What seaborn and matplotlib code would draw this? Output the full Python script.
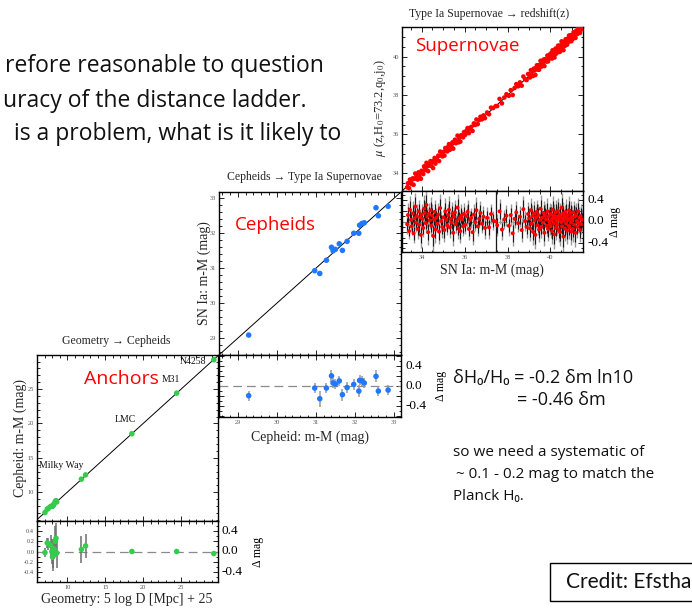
import matplotlib
matplotlib.use("Agg")
import matplotlib.pyplot as plt
import matplotlib.transforms as mtransforms
from matplotlib.patches import Rectangle
from matplotlib.ticker import MultipleLocator, FormatStrFormatter
import numpy as np
import pandas as pd
import seaborn as sns

# ---------------- data ----------------
# Geometric anchors: Milky Way parallaxes, two clusters, LMC, M31, NGC 4258
anchor_x = [7.05, 7.35, 7.50, 7.80, 7.95, 8.05, 8.15, 8.25, 8.40, 8.50, 8.60,
            11.85, 12.40, 18.50, 24.40, 29.30]
anchor_res = [-0.02, 0.17, 0.15, 0.12, 0.00, -0.11, -0.08, 0.05, 0.20, 0.26, -0.03,
              0.04, 0.11, 0.00, 0.00, -0.04]
anchor_err = [0.08, 0.10, 0.12, 0.20, 0.25, 0.22, 0.30, 0.20, 0.30, 0.30, 0.30,
              0.26, 0.24, 0.04, 0.05, 0.04]
anchor_names = ["Milky Way", "LMC", "M31", "N4258"]
anchor_name_pos = [(6.2, 13.9), (17.6, 20.5), (23.6, 26.4), (26.6, 29.0)]

# Cepheid hosts of type Ia supernovae
ceph_x = [29.28, 30.97, 31.10, 31.27, 31.40, 31.44, 31.50, 31.60, 31.68, 31.80,
          31.97, 32.10, 32.12, 32.18, 32.24, 32.54, 32.60, 32.85]
ceph_res = [-0.19, -0.04, -0.25, -0.04, 0.20, 0.06, 0.04, 0.10, -0.17, -0.03,
            0.03, -0.10, 0.11, 0.10, 0.06, 0.19, -0.10, -0.08]
ceph_err = [0.10, 0.10, 0.16, 0.10, 0.12, 0.10, 0.10, 0.10, 0.12, 0.10,
            0.10, 0.12, 0.10, 0.10, 0.10, 0.12, 0.10, 0.10]

# Hubble-flow type Ia supernovae
sn_x = [33.32, 33.36, 33.41, 33.45, 33.50, 33.53, 33.58, 33.62, 33.66, 33.70,
        33.74, 33.77, 33.81, 33.85, 33.89, 33.92, 33.96, 33.99,
        34.03, 34.07, 34.11, 34.14, 34.18, 34.22, 34.26, 34.30, 34.33, 34.37,
        34.41, 34.45, 34.49, 34.53, 34.57, 34.60, 34.64, 34.68, 34.72, 34.77,
        34.81, 34.86, 34.91, 34.96,
        35.02, 35.06, 35.10, 35.15, 35.19, 35.23, 35.27, 35.31, 35.35, 35.39,
        35.43, 35.47, 35.51, 35.55, 35.59, 35.63, 35.67, 35.71, 35.75, 35.80,
        35.84, 35.88, 35.93, 35.97,
        36.03, 36.09, 36.14, 36.20, 36.26, 36.31, 36.37, 36.43, 36.49, 36.55,
        36.61, 36.68, 36.74, 36.81, 36.88, 36.95,
        37.05, 37.14, 37.23, 37.33, 37.45, 37.52, 37.63, 37.74, 37.85, 37.95,
        38.06, 38.15, 38.24, 38.33, 38.41, 38.50, 38.58, 38.66, 38.74, 38.82,
        38.89, 38.96,
        39.02, 39.05, 39.09, 39.12, 39.16, 39.19, 39.23, 39.26, 39.30, 39.33,
        39.37, 39.40, 39.44, 39.47, 39.51, 39.54, 39.58, 39.61, 39.65, 39.68,
        39.72, 39.75, 39.79, 39.82, 39.86, 39.89, 39.92, 39.95, 39.97, 39.99,
        40.01, 40.03, 40.05, 40.08, 40.10, 40.12, 40.15, 40.17, 40.19, 40.22,
        40.24, 40.26, 40.29, 40.31, 40.33, 40.36, 40.38, 40.40, 40.43, 40.45,
        40.47, 40.50, 40.52, 40.54, 40.57, 40.59, 40.61, 40.64, 40.66, 40.68,
        40.71, 40.73, 40.75, 40.78, 40.80, 40.82, 40.85, 40.87, 40.89, 40.92,
        40.94, 40.96, 40.98, 40.99,
        41.02, 41.05, 41.08, 41.11, 41.14, 41.17, 41.20, 41.23, 41.26, 41.29,
        41.32, 41.35, 41.38, 41.41, 41.44, 41.48]
sn_res = [-0.05, 0.12, -0.18, 0.22, 0.03, -0.09, 0.15, -0.22, 0.06, 0.28,
          -0.02, 0.10, -0.14, 0.19, -0.06, 0.08, -0.25, 0.13,
          0.05, -0.12, 0.24, 0.16, -0.03, 0.31, 0.09, -0.20, 0.14, 0.02,
          0.21, -0.08, 0.11, -0.27, 0.04, 0.18, -0.15, 0.07, -0.04, 0.13,
          -0.19, 0.25, 0.01, -0.10,
          0.08, -0.16, 0.19, 0.03, -0.07, 0.12, 0.22, -0.11, 0.05, -0.02,
          0.15, -0.21, 0.09, 0.17, -0.05, 0.01, 0.26, -0.13, 0.06, -0.18,
          0.11, 0.04, -0.09, 0.14,
          -0.06, 0.10, 0.18, -0.14, 0.03, 0.07, -0.20, 0.13, -0.01, 0.21,
          -0.09, 0.05, 0.16, -0.04, 0.09, -0.12,
          0.07, -0.11, 0.14, 0.02, 0.00, -0.07, 0.19, -0.15, 0.04, 0.11,
          -0.08, 0.12, -0.22, 0.05, 0.17, -0.03, 0.09, -0.16, 0.23, 0.01,
          -0.10, 0.14,
          0.06, -0.13, 0.21, -0.04, 0.10, -0.19, 0.15, 0.02, -0.25, 0.08,
          0.18, -0.07, 0.12, -0.15, 0.03, 0.24, -0.10, 0.07, -0.02, 0.16,
          -0.21, 0.11, 0.04, -0.08, 0.19, -0.14, 0.09, 0.00, -0.05, 0.13,
          -0.09, 0.14, 0.03, -0.18, 0.22, 0.07, -0.03, 0.11, -0.24, 0.05,
          0.17, -0.12, 0.01, 0.09, -0.06, 0.20, -0.15, 0.04, 0.13, -0.20,
          0.08, -0.01, 0.26, -0.09, 0.06, 0.15, -0.28, 0.02, 0.10, -0.13,
          0.18, -0.04, 0.07, -0.17, 0.12, 0.03, -0.08, 0.21, -0.11, 0.05,
          0.16, -0.02, -0.19, 0.09,
          0.04, -0.14, 0.17, -0.06, 0.09, -0.21, 0.12, 0.01, -0.10, 0.19,
          -0.03, 0.07, -0.16, 0.10, -0.05, 0.03]
sn_err = [0.18, 0.22, 0.15, 0.25, 0.20, 0.16, 0.24, 0.19, 0.21, 0.26,
          0.17, 0.23, 0.18, 0.22, 0.20, 0.15, 0.24, 0.19,
          0.20, 0.17, 0.26, 0.22, 0.18, 0.28, 0.19, 0.23, 0.20, 0.16,
          0.24, 0.18, 0.21, 0.30, 0.17, 0.22, 0.25, 0.19, 0.16, 0.21,
          0.23, 0.27, 0.18, 0.20,
          0.19, 0.22, 0.24, 0.17, 0.18, 0.21, 0.25, 0.20, 0.16, 0.18,
          0.22, 0.24, 0.19, 0.23, 0.17, 0.15, 0.26, 0.20, 0.18, 0.22,
          0.21, 0.17, 0.19, 0.20,
          0.18, 0.20, 0.23, 0.21, 0.17, 0.19, 0.24, 0.20, 0.16, 0.25,
          0.19, 0.18, 0.22, 0.17, 0.20, 0.21,
          0.20, 0.22, 0.19, 0.18, 0.90, 0.21, 0.23, 0.20, 0.18, 0.19,
          0.19, 0.21, 0.24, 0.18, 0.22, 0.17, 0.20, 0.23, 0.25, 0.18,
          0.20, 0.22,
          0.20, 0.24, 0.22, 0.18, 0.21, 0.25, 0.23, 0.19, 0.27, 0.20,
          0.22, 0.18, 0.21, 0.24, 0.17, 0.26, 0.20, 0.19, 0.18, 0.23,
          0.25, 0.21, 0.17, 0.20, 0.24, 0.22, 0.19, 0.18, 0.20, 0.22,
          0.22, 0.19, 0.17, 0.24, 0.25, 0.20, 0.18, 0.21, 0.28, 0.19,
          0.23, 0.22, 0.17, 0.20, 0.19, 0.24, 0.23, 0.18, 0.21, 0.26,
          0.20, 0.17, 0.27, 0.21, 0.19, 0.22, 0.30, 0.18, 0.20, 0.23,
          0.24, 0.19, 0.18, 0.25, 0.21, 0.17, 0.20, 0.26, 0.22, 0.19,
          0.23, 0.18, 0.25, 0.20,
          0.21, 0.24, 0.22, 0.18, 0.20, 0.26, 0.23, 0.17, 0.21, 0.24,
          0.19, 0.20, 0.23, 0.22, 0.18, 0.20]

resid_labels = [0.4, 0.0, -0.4]

slide_lines = ["refore reasonable to question",
               "uracy of the distance ladder.",
               "is a problem, what is it likely to"]
eq_lines = ["\u03b4H\u2080/H\u2080 = -0.2 \u03b4m ln10", "= -0.46 \u03b4m"]
note_lines = ["so we need a systematic of",
              "~ 0.1 - 0.2 mag to match the",
              "Planck H\u2080."]

# ---------------- styling ----------------
sns.set_theme(style="ticks")
plt.rcParams["font.family"] = ["Liberation Serif", "DejaVu Serif"]
plt.rcParams["mathtext.fontset"] = "stix"
SANS = ["Open Sans", "DejaVu Sans"]

W, H = 692, 608
fig = plt.figure(figsize=(W / 100, H / 100), dpi=100)
fig.patch.set_facecolor("white")


def box(l, t, r, b):
    return fig.add_axes([l / W, 1 - b / H, (r - l) / W, (b - t) / H])


def fpos(x, y):
    return x / W, 1 - y / H


def style(ax, xmaj, xmin, ymaj, ymin, xlabels, ylabels, yfmt="%g"):
    ax.set_facecolor("white")
    ax.xaxis.set_major_locator(MultipleLocator(xmaj))
    ax.xaxis.set_minor_locator(MultipleLocator(xmin))
    ax.yaxis.set_major_locator(MultipleLocator(ymaj))
    ax.yaxis.set_minor_locator(MultipleLocator(ymin))
    ax.yaxis.set_major_formatter(FormatStrFormatter(yfmt))
    ax.tick_params(which="both", direction="in", top=True, right=True,
                   labelsize=4.6, width=0.6, pad=2, colors="black")
    ax.tick_params(axis="both", labelcolor="#555555")
    ax.tick_params(which="major", length=3.5)
    ax.tick_params(which="minor", length=1.8)
    ax.tick_params(labelbottom=xlabels, labelleft=ylabels)
    for s in ax.spines.values():
        s.set_linewidth(1.0)
        s.set_color("black")
    ax.set_xlabel("")
    ax.set_ylabel("")


def right_labels(ax, width_px, dlab_px):
    trans = mtransforms.blended_transform_factory(ax.transAxes, ax.transData)
    for v in resid_labels:
        ax.text(1 + 4 / width_px, v, f"{v:.1f}", transform=trans,
                ha="left", va="center", fontsize=9.5, color="black")
    ax.text(1 + dlab_px / width_px, 0.0, "\u0394 mag", transform=trans,
            ha="center", va="center", rotation=90, fontsize=8.5, color="black")


def panel(main_box, res_box, x, res, err, color, lim, rlim, size_main, size_res,
          ecolor, elw):
    x = np.asarray(x)
    res = np.asarray(res)
    err = np.asarray(err)
    df = pd.DataFrame({"x": x, "y": x + res, "res": res, "err": err})

    ax = box(*main_box)
    ax.axline((lim[0], lim[0]), slope=1, color="black", lw=0.7, zorder=1)
    sns.scatterplot(data=df, x="x", y="y", ax=ax, color=color, s=size_main,
                    edgecolor="none", linewidth=0, legend=False, zorder=3)
    ax.set_xlim(lim)
    ax.set_ylim(lim)

    axr = box(*res_box)
    axr.axhline(0, color="#8a8a8a", lw=0.9, ls=(0, (7, 4)), zorder=1)
    axr.errorbar(df["x"], df["res"], yerr=df["err"], fmt="none",
                 ecolor=ecolor, elinewidth=elw, capsize=0, zorder=2)
    sns.scatterplot(data=df, x="x", y="res", ax=axr, color=color, s=size_res,
                    edgecolor="none", linewidth=0, legend=False, zorder=3)
    axr.set_xlim(lim)
    axr.set_ylim(rlim)
    return ax, axr, df


# ---------------- Anchors ----------------
A_main, A_res, A_df = panel((37, 355, 218, 521), (37, 521, 218, 582),
                            anchor_x, anchor_res, anchor_err, "#33cc4d",
                            (6.0, 29.85), (-0.6, 0.6), 16, 16, "#6e6e6e", 1.1)
A_main.set_ylim(5.8, 29.95)
style(A_main, 5, 1, 5, 1, False, True)
style(A_res, 5, 1, 0.2, 0.1, True, True, "%.1f")
A_res.set_yticks([-0.4, -0.2, 0.0, 0.2, 0.4])
right_labels(A_res, 181, 40)
for name, (tx, ty) in zip(anchor_names, anchor_name_pos):
    A_main.text(tx, ty, name, fontsize=7, ha="left" if name == "Milky Way" else "center",
                va="center", color="#111111")

# ---------------- Cepheids ----------------
C_main, C_res, C_df = panel((219, 192, 401, 355), (219, 355, 401, 417),
                            ceph_x, ceph_res, ceph_err, "#1f78ff",
                            (28.52, 33.18), (-0.61, 0.61), 16, 16, "#9a9a9a", 1.1)
style(C_main, 1, 0.2, 1, 0.2, False, True)
style(C_res, 1, 0.2, 0.2, 0.1, True, False, "%.1f")
right_labels(C_res, 182, 40)

# ---------------- Supernovae ----------------
S_main, S_res, S_df = panel((402, 27, 583, 191), (402, 191, 583, 252),
                            sn_x, sn_res, sn_err, "#ff0000",
                            (33.08, 41.52), (-0.57, 0.57), 11, 8, "#9a9a9a", 1.0)
S_res.errorbar(S_df["x"], S_df["res"], yerr=S_df["err"] * 0.65, fmt="none",
               ecolor="#1a1a1a", elinewidth=0.8, capsize=0, zorder=2.5)
style(S_main, 2, 0.5, 2, 0.5, False, True)
style(S_res, 2, 0.5, 0.2, 0.1, True, False, "%.1f")
right_labels(S_res, 181, 32)

# ---------------- panel titles and axis labels ----------------
fig.text(*fpos(116, 341), "Geometry \u2192 Cepheids", ha="center", va="center", fontsize=8.5)
fig.text(*fpos(304, 177), "Cepheids \u2192 Type Ia Supernovae", ha="center", va="center", fontsize=8.5)
fig.text(*fpos(489, 14), "Type Ia Supernovae \u2192 redshift(z)", ha="center", va="center", fontsize=8.5)

fig.text(*fpos(127, 599), "Geometry: 5 log D [Mpc] + 25", ha="center", va="center", fontsize=10)
fig.text(*fpos(310, 437), "Cepheid: m-M (mag)", ha="center", va="center", fontsize=10)
fig.text(*fpos(492, 270), "SN Ia: m-M (mag)", ha="center", va="center", fontsize=10)

fig.text(*fpos(20, 438), "Cepheid: m-M (mag)", ha="center", va="center", rotation=90, fontsize=10)
fig.text(*fpos(204, 273), "SN Ia: m-M (mag)", ha="center", va="center", rotation=90, fontsize=10)
fig.text(*fpos(380, 108), r"$\mu$ (z,H$_0$=73.2,q$_0$,j$_0$)", ha="center", va="center",
         rotation=90, fontsize=9)

# big red stage names
fig.text(*fpos(84, 379), "Anchors", color="#ff0000", fontsize=14, family=SANS, va="center")
fig.text(*fpos(235, 225), "Cepheids", color="#ff0000", fontsize=13.5, family=SANS, va="center")
fig.text(*fpos(415, 46), "Supernovae", color="#ff0000", fontsize=13.5, family=SANS, va="center")

# ---------------- slide text ----------------
for (x0, y0), line in zip([(5, 66), (3, 101), (14, 134)], slide_lines):
    fig.text(*fpos(x0, y0), line, fontsize=16.5, family=SANS, va="center", color="#111111")

for (x0, y0), line in zip([(453, 378), (517, 400)], eq_lines):
    fig.text(*fpos(x0, y0), line, fontsize=13, family=SANS, va="center", color="#111111")
for (x0, y0), line in zip([(453, 452), (456, 474), (453, 497)], note_lines):
    fig.text(*fpos(x0, y0), line, fontsize=11, family=SANS, va="center", color="#111111")

fig.add_artist(Rectangle(fpos(550, 601), 160 / W, 38 / H, transform=fig.transFigure,
                         fill=False, edgecolor="black", lw=1.0, clip_on=False))
fig.text(*fpos(566, 582), "Credit: Efstha", fontsize=15, family=["Lato", "DejaVu Sans"],
         va="center", color="#111111")

fig.savefig("out.png", dpi=100, facecolor="white")
